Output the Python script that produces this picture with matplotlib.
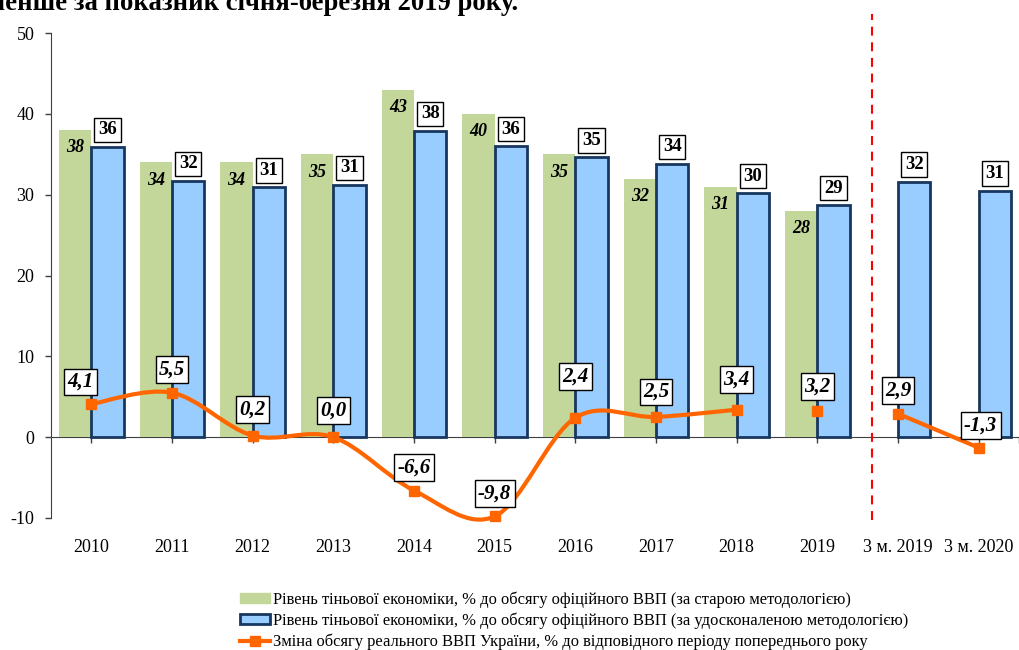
import numpy as np
import matplotlib.pyplot as plt
from matplotlib.path import Path
from matplotlib.patches import PathPatch, Patch
from matplotlib.lines import Line2D

plt.rcParams['font.family'] = ['Liberation Serif', 'DejaVu Serif']
plt.rcParams['axes.unicode_minus'] = False

# categories
cats = ["2010", "2011", "2012", "2013", "2014", "2015", "2016", "2017", "2018", "2019",
        "3 м. 2019", "3 м. 2020"]
# shadow economy, old methodology (only annual)
old_vals = [38, 34, 34, 35, 43, 40, 35, 32, 31, 28]
# shadow economy, improved methodology
new_vals = [35.9, 31.7, 30.9, 31.2, 37.9, 36.0, 34.6, 33.8, 30.2, 28.7, 31.6, 30.5]
new_labels = ["36", "32", "31", "31", "38", "36", "35", "34", "30", "29", "32", "31"]
# real GDP change
gdp = [4.1, 5.5, 0.2, 0.0, -6.6, -9.8, 2.4, 2.5, 3.4, 3.2, 2.9, -1.3]
gdp_labels = ["4,1", "5,5", "0,2", "0,0", "-6,6", "-9,8", "2,4", "2,5", "3,4", "3,2", "2,9", "-1,3"]
# parts of the gdp series drawn as connected smooth lines
gdp_groups = [range(0, 9), range(10, 12)]

legend_labels = [
    "Рівень тіньової економіки, % до обсягу офіційного ВВП (за старою методологією)",
    "Рівень тіньової економіки, % до обсягу офіційного ВВП (за удосконаленою методологією)",
    "Зміна обсягу реального ВВП України, % до відповідного періоду попереднього року",
]

green = "#C4D79B"
blue = "#99CCFF"
navy = "#17375E"
orange = "#FF6600"

fig = plt.figure(figsize=(10.2, 6.5), dpi=100)
ax = fig.add_axes([51/1020, 1-518/650, 968/1020, 485/650])

x = np.arange(len(cats))
w = 0.4
ax.bar(x[:len(old_vals)] - w/2, old_vals, w, color=green, zorder=2)
ax.bar(x + w/2, new_vals, w, color=blue, edgecolor=navy, linewidth=2, zorder=2)

for i, v in enumerate(old_vals):
    ax.annotate(str(v), (i - w/2, v), xytext=(0, -18), textcoords="offset pixels",
                ha="center", va="center", fontsize=13, fontweight="bold",
                fontstyle="italic", zorder=4)
for i, v in enumerate(new_vals):
    ax.annotate(new_labels[i], (i + w/2, v), xytext=(0, 17), textcoords="offset pixels",
                ha="center", va="center", fontsize=13.5, fontweight="bold", zorder=4,
                bbox=dict(boxstyle="square,pad=0.2", fc="white", ec="black", lw=1))

# smoothed line (bezier, catmull-rom style control points)
for g in gdp_groups:
    idx = list(g)
    pts = [(float(i), float(gdp[i])) for i in idx]
    verts = [pts[0]]
    codes = [Path.MOVETO]
    for k in range(len(pts) - 1):
        p0 = np.array(pts[k - 1] if k > 0 else pts[k])
        p1 = np.array(pts[k])
        p2 = np.array(pts[k + 1])
        p3 = np.array(pts[k + 2] if k + 2 < len(pts) else pts[k + 1])
        c1 = p1 + (p2 - p0) / 6
        c2 = p2 - (p3 - p1) / 6
        verts += [tuple(c1), tuple(c2), tuple(p2)]
        codes += [Path.CURVE4] * 3
    ax.add_patch(PathPatch(Path(verts, codes), fill=False, edgecolor=orange, lw=3,
                           zorder=3, clip_on=False))

ax.plot(x, gdp, linestyle="none", marker="s", markersize=7.5, color=orange, zorder=3,
        clip_on=False)

offs = [(-11, 22), (0, 23), (0, 26), (0, 27), (0, 23), (0, 23),
        (0, 41), (0, 25), (0, 30), (0, 25), (0, 23), (2, 22)]
for i, v in enumerate(gdp):
    ax.annotate(gdp_labels[i], (i, v), xytext=offs[i], textcoords="offset pixels",
                ha="center", va="center", fontsize=15, fontweight="bold",
                fontstyle="italic", zorder=5,
                bbox=dict(boxstyle="square,pad=0.16", fc="white", ec="black", lw=1))

ax.axvline(9.68, ymin=-0.004, ymax=1.039, color="red", lw=1.5,
           linestyle=(0, (4.3, 3.2)), clip_on=False, zorder=1)

ax.set_xlim(-0.5, 11.5)
ax.set_ylim(-10, 50)
ax.set_yticks(range(-10, 51, 10))
ax.set_xticks(x)
ax.set_xticklabels(cats)
ax.tick_params(axis="x", length=0, pad=15, labelsize=13)
ax.tick_params(axis="y", length=4, width=1, pad=8, labelsize=13, color="#404040")
for s in ["top", "right", "bottom"]:
    ax.spines[s].set_visible(False)
ax.spines["left"].set_color("#404040")

# zero line with tick marks
sec = ax.secondary_xaxis(10/60)
sec.set_xticks(list(x) + [11.5])
sec.set_xticklabels([])
sec.tick_params(length=4, width=1, color="#404040")
sec.spines["bottom"].set_color("#404040")

fig.text(-0.013, 1-9.5/650, "менше за показник січня-березня 2019 року.",
         fontsize=19.2, fontweight="bold", va="baseline", ha="left")

handles = [Patch(facecolor=green, edgecolor=green),
           Patch(facecolor=blue, edgecolor=navy, linewidth=2),
           Line2D([0], [0], color=orange, lw=3, marker="s", markersize=7)]
fig.legend(handles, legend_labels, loc="upper left", bbox_to_anchor=(232/1020, 1-583/650),
           frameon=False, fontsize=11.85, handlelength=1.8, handleheight=0.5,
           handletextpad=0.2, labelspacing=0.28, borderpad=0)

fig.savefig("out.png", dpi=100)
